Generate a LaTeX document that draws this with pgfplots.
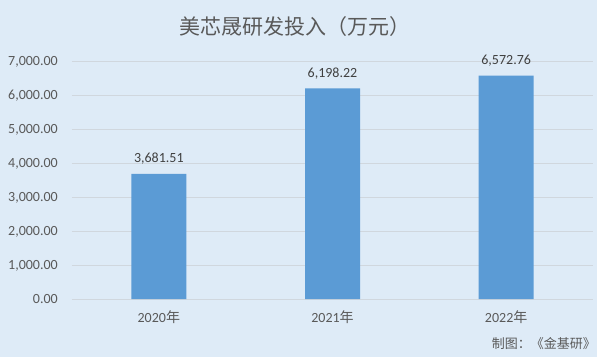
\documentclass[border=0pt]{standalone}
\usepackage{fontspec}
\setmainfont{Carlito}
\newfontfamily\cjk{Noto Sans CJK SC}
\usepackage{pgfplots}
\pgfplotsset{compat=1.18}
\definecolor{bg}{HTML}{DEEBF7}
\definecolor{barc}{HTML}{5B9BD5}
\definecolor{txt}{HTML}{595959}
\definecolor{lbl}{HTML}{404040}
\definecolor{gridc}{HTML}{D0D7DE}
\begin{document}
\begin{tikzpicture}[x=1pt,y=1pt]
\fill[bg] (0,0) rectangle (597,357);
\path[use as bounding box] (0,0) rectangle (597,357);
\begin{axis}[
  at={(72pt,58pt)}, anchor=south west,
  scale only axis, width=521pt, height=238pt,
  xmin=-0.5, xmax=2.5, ymin=0, ymax=7000,
  ytick={0,1000,...,7000},
  xtick={0,1,2},
  xticklabels={2020{\cjk 年},2021{\cjk 年},2022{\cjk 年}},
  axis line style={draw=none},
  major tick length=0pt,
  ymajorgrids, grid style={gridc, line width=0.8pt},
  ybar, bar width=55pt,
  clip=false,
  /pgf/number format/.cd, fixed, fixed zerofill, precision=2, 1000 sep={,}, assume math mode=true,
  /pgfplots/.cd,
  yticklabel style={font=\fontsize{14}{14}\selectfont, text=txt, anchor=base east, inner sep=0pt, xshift=-14pt, yshift=-4.5pt},
  xticklabel style={font=\fontsize{14}{14}\selectfont, text=txt, anchor=base, inner sep=0pt, yshift=-23.5pt},
  nodes near coords,
  nodes near coords style={font=\fontsize{14}{14}\selectfont, text=lbl, anchor=base, inner sep=0pt, yshift=11pt,
    /pgf/number format/.cd, fixed, fixed zerofill, precision=2, 1000 sep={,}, assume math mode=true},
]
\addplot[fill=barc, draw=none] coordinates {(0,3681.51) (1,6198.22) (2,6572.76)};
\end{axis}
\node[font=\cjk\fontsize{21}{21}\selectfont, text=txt] at (295,330) {美芯晟研发投入（万元）};
\node[anchor=base east, inner sep=0pt, font=\cjk\fontsize{13}{13}\selectfont, text=txt] at (596,9) {制图：《金基研》};
\end{tikzpicture}
\end{document}
